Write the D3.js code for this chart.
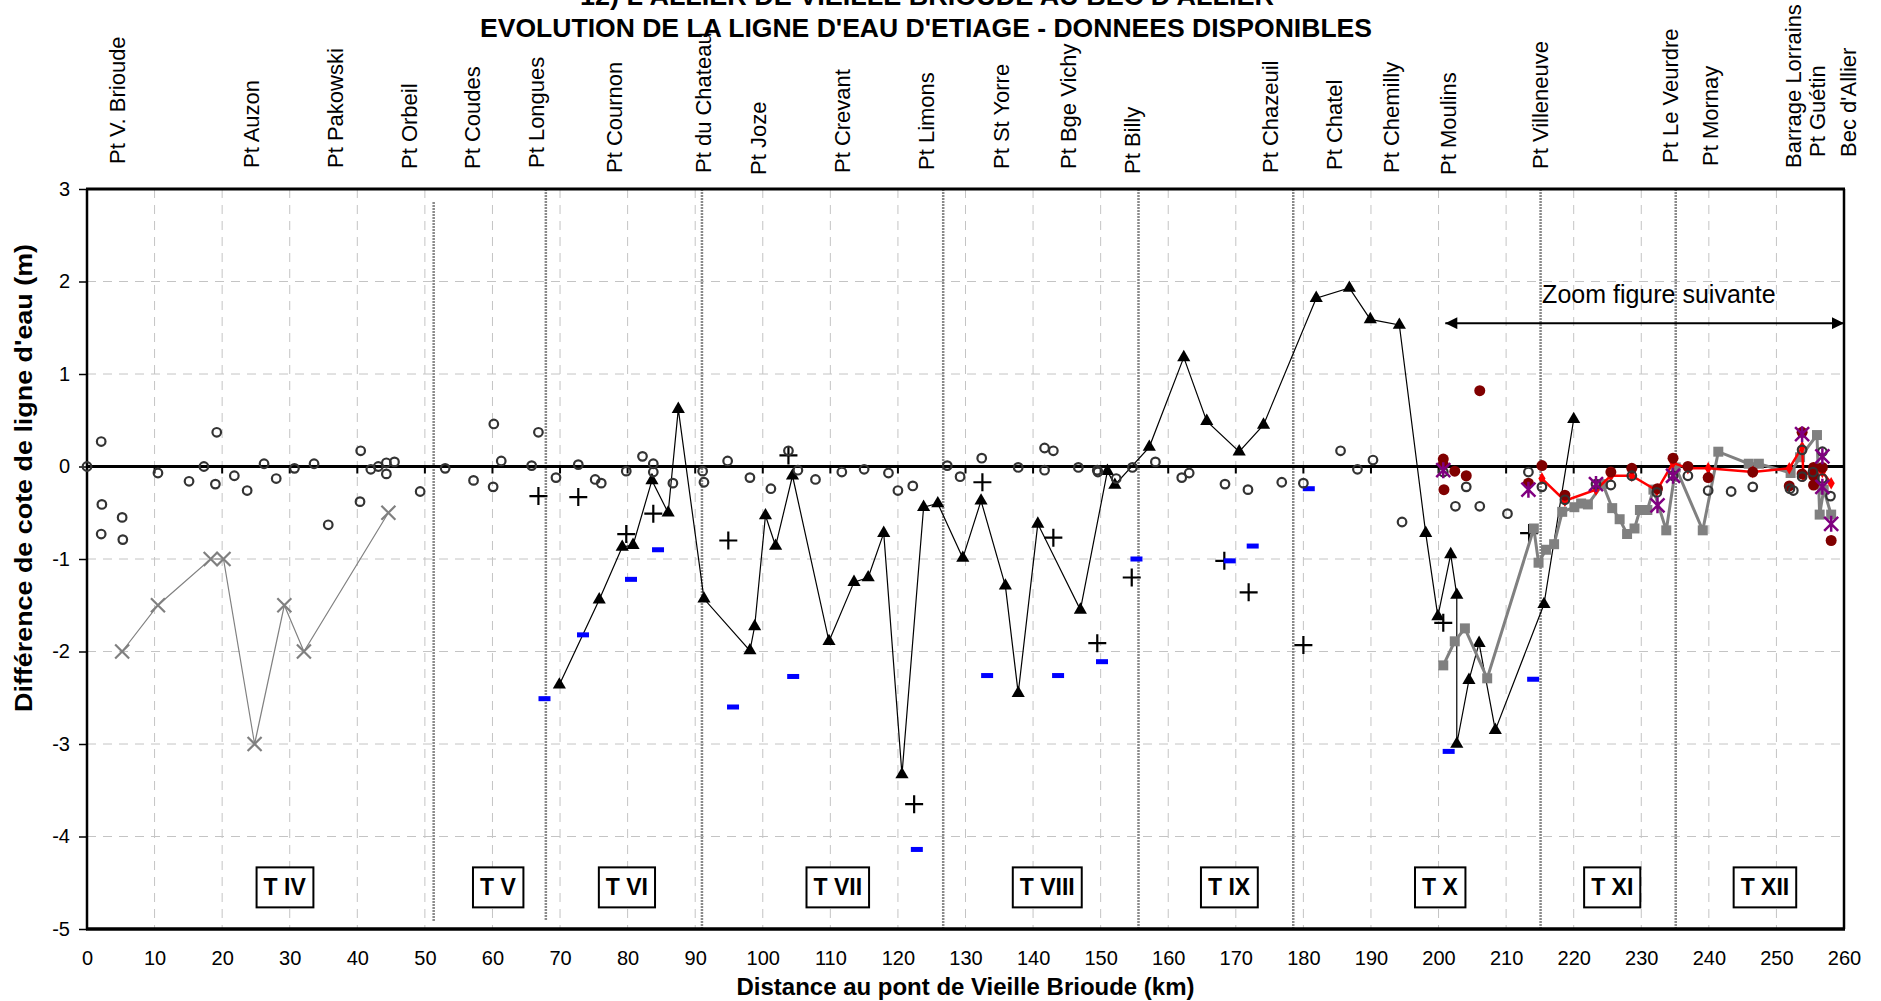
<!DOCTYPE html>
<html><head><meta charset="utf-8">
<script src="https://cdn.jsdelivr.net/npm/d3@7"></script>
<style>
body{margin:0;background:#fff;}
svg{display:block;font-family:"Liberation Sans",Arial,sans-serif;}
</style>
</head><body>
<svg id="chart" width="1881" height="1001"></svg>
<script>
// ---------------- DATA ----------------
const titleLines = ["12) L'ALLIER DE VIEILLE BRIOUDE AU BEC D'ALLIER", "EVOLUTION DE LA LIGNE D'EAU D'ETIAGE - DONNEES DISPONIBLES"];
const xTitle = "Distance au pont de Vieille Brioude (km)";
const yTitle = "Différence de cote de ligne d'eau (m)";
const xTicks = d3.range(0, 261, 10);
const yTicks = [3, 2, 1, 0, -1, -2, -3, -4, -5];

const bridgeNames = ["Pt V. Brioude","Pt Auzon","Pt Pakowski","Pt Orbeil","Pt Coudes","Pt Longues","Pt Cournon","Pt du Chateau","Pt Joze","Pt Crevant","Pt Limons","Pt St Yorre","Pt Bge Vichy","Pt Billy","Pt Chazeuil","Pt Chatel","Pt Chemilly","Pt Moulins","Pt Villeneuve","Pt Le Veurdre","Pt Mornay","Barrage Lorrains","Pt Guétin","Bec d'Allier"];
const bridgeKm = [4.5,24.4,36.7,47.7,57.1,66.5,78.0,91.2,99.3,111.8,124.2,135.4,145.3,154.7,175.2,184.6,193.1,201.5,215.1,234.3,240.2,252.6,256.1,260.6];

const sectionNames = ["T IV","T V","T VI","T VII","T VIII","T IX","T X","T XI","T XII"];
const sectionKm = [29.25,60.8,79.9,111.1,142.1,169.0,200.2,225.7,248.3];
const sectionLabelValue = -4.55;
const sectionLimitsKm = [51.3,67.9,91.0,126.7,155.6,178.5,215.1,235.1];

const zoomArrowKm = [201.0, 260.0];
const zoomArrowValue = 1.55;
const zoomText = "Zoom figure suivante";

// open circles
const seriesCircles = [[0,0],[2.1,0.27],[2.2,-0.41],[2.1,-0.73],[5.2,-0.55],[5.3,-0.79],[10.5,-0.07],[15.1,-0.16],[17.3,0],[19.2,0.37],[19.0,-0.19],[21.8,-0.10],[23.7,-0.26],[26.2,0.03],[28.0,-0.13],[30.7,-0.02],[33.6,0.03],[35.7,-0.63],[40.5,0.17],[40.4,-0.38],[42.0,-0.03],[43.1,0],[44.3,0.04],[45.5,0.05],[44.3,-0.08],[49.3,-0.27],[53.0,-0.02],[57.2,-0.15],[60.2,0.46],[60.1,-0.22],[61.3,0.06],[65.8,0.01],[66.8,0.37],[69.4,-0.12],
[72.7,0.02],[75.2,-0.14],[76.1,-0.18],[79.8,-0.05],[82.2,0.11],[83.8,0.03],[83.8,-0.06],[86.7,-0.18],[91.1,-0.05],[91.3,-0.17],[94.8,0.06],[98.1,-0.12],[101.2,-0.24],[103.8,0.17],[105.2,-0.04],[107.8,-0.14],[111.7,-0.06],[115.0,-0.03],[118.6,-0.07],[120.0,-0.26],[122.2,-0.21],[127.3,0.01],[129.2,-0.11],[132.4,0.09],[137.8,-0.01],
[141.7,0.20],[141.7,-0.04],[143.0,0.17],[146.7,-0.01],[149.5,-0.04],[149.6,-0.06],[152.3,-0.13],[154.7,-0.01],[158.1,0.05],[162.0,-0.12],[163.1,-0.07],[168.4,-0.19],[171.8,-0.25],[176.8,-0.17],[180.0,-0.18],[185.5,0.17],[188.0,-0.03],[190.3,0.07],[194.6,-0.60],
[200.7,-0.06],[202.5,-0.43],[204.1,-0.22],[206.1,-0.43],[210.2,-0.51],[213.3,-0.06],[215.3,-0.22],[218.7,-0.36],[223.3,-0.19],[225.5,-0.20],[228.6,-0.10],[232.3,-0.28],[234.7,-0.10],[236.9,-0.10],[239.9,-0.26],[243.3,-0.27],[246.5,-0.22],[252.0,-0.24],[252.5,-0.26],[253.8,0.18],[253.8,-0.11],[255.4,-0.06],[256.8,0.16],[256.8,-0.13],[258.0,-0.32]];

// grey crosses with thin line
const seriesGreyX = [[5.2,-2.0],[10.5,-1.5],[18.3,-1.0],[20.2,-1.0],[24.8,-3.0],[29.2,-1.5],[32.1,-2.0],[44.6,-0.5]];

// black triangles with line
const seriesTriangles = [[69.9,-2.36],[75.8,-1.44],[79.2,-0.87],[80.8,-0.85],[83.6,-0.15],[86.0,-0.50],[87.5,0.62],[91.3,-1.43],[98.1,-1.99],[98.8,-1.73],[100.4,-0.53],[101.9,-0.86],[104.4,-0.10],[109.8,-1.89],[113.5,-1.25],[115.6,-1.20],[117.9,-0.72],[120.6,-3.33],[123.8,-0.44],[125.9,-0.40],[129.6,-0.99],[132.3,-0.37],[135.9,-1.29],[137.8,-2.45],[140.7,-0.62],[147.0,-1.55],[151.0,-0.05],[152.1,-0.20],[157.2,0.21],[162.3,1.18],[165.7,0.49],[170.5,0.16],[174.1,0.45],[181.9,1.82],[186.8,1.93],[189.9,1.59],[194.2,1.53],[198.1,-0.72],[199.9,-1.62],[201.8,-0.95],[202.7,-1.39],[202.7,-3.00],[204.5,-2.31],[206.0,-1.91],[208.4,-2.85],[215.6,-1.49],[220.0,0.51]];

// black plus signs
const seriesPlus = [[66.8,-0.32],[72.7,-0.33],[79.8,-0.73],[83.8,-0.51],[94.9,-0.80],[103.8,0.12],[122.4,-3.65],[132.5,-0.17],[143.0,-0.77],[149.5,-1.91],[154.6,-1.20],[168.3,-1.02],[171.9,-1.36],[180.0,-1.93],[200.7,-1.69],[213.4,-0.72]];

// blue dashes
const seriesBlue = [[67.7,-2.51],[73.4,-1.82],[80.5,-1.22],[84.5,-0.90],[95.6,-2.60],[104.5,-2.27],[122.8,-4.14],[133.2,-2.26],[143.7,-2.26],[150.2,-2.11],[155.3,-1.00],[169.1,-1.02],[172.5,-0.86],[180.8,-0.24],[201.5,-3.08],[214.0,-2.30]];

// grey squares with thick line
const seriesSquares = [[200.7,-2.15],[202.4,-1.89],[203.9,-1.75],[207.2,-2.29],[214.1,-0.67],[214.8,-1.04],[215.9,-0.90],[217.1,-0.84],[218.3,-0.49],[220.1,-0.44],[221.1,-0.40],[222.1,-0.41],[224.3,-0.19],[225.7,-0.45],[226.8,-0.57],[227.9,-0.73],[229.0,-0.67],[229.8,-0.47],[230.9,-0.47],[231.8,-0.25],[233.7,-0.69],[235.1,-0.01],[239.1,-0.69],[241.4,0.16],[245.9,0.03],[247.4,0.03],[252.1,-0.07],[253.5,0.10],[256.0,0.34],[256.4,-0.52],[257.0,-0.25],[258.1,-0.52]];

// red line with small diamonds
const seriesRed = [[215.3,-0.13],[218.7,-0.37],[223.3,-0.25],[225.5,-0.10],[228.6,-0.10],[232.3,-0.26],[234.7,0.04],[236.9,-0.02],[239.9,-0.02],[246.5,-0.06],[251.9,-0.02],[253.8,0.21],[254.0,-0.10],[255.5,-0.04],[256.8,-0.06],[258.1,-0.18]];

// dark red filled circles
const seriesMaroon = [[200.7,0.08],[200.7,0.02],[200.8,-0.25],[202.4,-0.05],[204.1,-0.10],[206.1,0.82],[213.3,-0.18],[215.3,0.01],[218.7,-0.31],[225.5,-0.06],[228.6,-0.02],[232.4,-0.24],[234.7,0.09],[236.9,0.00],[239.9,-0.12],[246.5,-0.06],[251.9,-0.21],[253.8,0.37],[253.8,-0.08],[255.5,-0.01],[255.5,-0.10],[255.5,-0.20],[256.8,-0.01],[258.1,-0.80]];

// purple asterisks
const seriesPurple = [[200.7,-0.04],[213.3,-0.25],[223.3,-0.19],[232.4,-0.42],[234.7,-0.10],[253.8,0.35],[256.8,0.11],[256.8,-0.22],[258.1,-0.62]];

// ---------------- LAYOUT ----------------
const pL = 87, pR = 1844, pT = 189, pB = 929;
const bridgeLabelBottom = [164,168,168,169,169,168,173,173,175,173,170,169,169,174,173,170,173,175,169,163,166,168,157,157];

const svg = d3.select("#chart");
const x = d3.scaleLinear().domain([0, 260]).range([pL, pR]);
const y = d3.scaleLinear().domain([-5, 3]).range([pB, pT]);

// titles
svg.append("text").attr("x", 927).attr("y", 5).attr("text-anchor", "middle")
  .attr("font-weight", "bold").attr("font-size", 25)
  .attr("textLength", 694).attr("lengthAdjust", "spacingAndGlyphs").text(titleLines[0]);
svg.append("text").attr("x", 926).attr("y", 37).attr("text-anchor", "middle")
  .attr("font-weight", "bold").attr("font-size", 25)
  .attr("textLength", 892).attr("lengthAdjust", "spacingAndGlyphs").text(titleLines[1]);

// grid
const grid = svg.append("g");
grid.selectAll("line.v").data(xTicks.filter(d => d > 0 && d < 260)).join("line")
  .attr("x1", d => x(d)).attr("x2", d => x(d)).attr("y1", pT).attr("y2", pB)
  .attr("stroke", "#c4c4c4").attr("stroke-width", 1).attr("stroke-dasharray", "9,7");
grid.selectAll("line.h").data(yTicks.filter(d => d !== 0 && d !== 3 && d !== -5)).join("line")
  .attr("x1", pL).attr("x2", pR).attr("y1", d => y(d)).attr("y2", d => y(d))
  .attr("stroke", "#c4c4c4").attr("stroke-width", 1).attr("stroke-dasharray", "9,7");

// section limits
svg.append("g").selectAll("line").data(sectionLimitsKm).join("line")
  .attr("x1", d => x(d)).attr("x2", d => x(d))
  .attr("y1", (d, i) => i === 0 ? 202 : pT)
  .attr("y2", (d, i) => i < 2 ? 921 : pB)
  .attr("stroke", "#8a8a8a").attr("stroke-width", 2.5).attr("stroke-dasharray", "2,1");

// zero line + ticks
svg.append("line").attr("x1", pL).attr("x2", pR).attr("y1", y(0)).attr("y2", y(0))
  .attr("stroke", "#000").attr("stroke-width", 3);
svg.append("g").selectAll("line").data(xTicks.filter(d => d > 0 && d < 260)).join("line")
  .attr("x1", d => x(d)).attr("x2", d => x(d)).attr("y1", y(0)).attr("y2", y(0) + 7)
  .attr("stroke", "#000").attr("stroke-width", 2);

// y axis
const yAxis = svg.append("g").attr("transform", `translate(${pL},0)`)
  .call(d3.axisLeft(y).tickValues(yTicks).tickSize(8).tickSizeOuter(0).tickPadding(9).tickFormat(d => String(d)));
yAxis.select(".domain").remove();
yAxis.selectAll("line").attr("stroke", "#000").attr("stroke-width", 1.5);
yAxis.selectAll("text").attr("font-size", 20).attr("font-family", "Liberation Sans, Arial, sans-serif").attr("fill", "#000");

// x axis labels at bottom
const xAxis = svg.append("g").attr("transform", `translate(0,${pB})`)
  .call(d3.axisBottom(x).tickValues(xTicks).tickSize(0).tickPadding(22).tickFormat(d => String(d)));
xAxis.select(".domain").remove();
xAxis.selectAll("text").attr("font-size", 20).attr("font-family", "Liberation Sans, Arial, sans-serif").attr("fill", "#000");

// frame
svg.append("line").attr("x1", pL - 1).attr("x2", pR + 1).attr("y1", pT).attr("y2", pT).attr("stroke", "#000").attr("stroke-width", 3);
svg.append("line").attr("x1", pL - 1).attr("x2", pR + 1).attr("y1", pB).attr("y2", pB).attr("stroke", "#000").attr("stroke-width", 3.5);
svg.append("line").attr("x1", pL).attr("x2", pL).attr("y1", pT).attr("y2", pB).attr("stroke", "#000").attr("stroke-width", 2.5);
svg.append("line").attr("x1", pR).attr("x2", pR).attr("y1", pT).attr("y2", pB).attr("stroke", "#000").attr("stroke-width", 2.5);

// axis titles
svg.append("text").attr("x", (pL + pR) / 2).attr("y", 995).attr("text-anchor", "middle")
  .attr("font-weight", "bold").attr("font-size", 23)
  .attr("textLength", 458).attr("lengthAdjust", "spacingAndGlyphs").text(xTitle);
svg.append("text").attr("transform", "translate(32,478) rotate(-90)").attr("text-anchor", "middle")
  .attr("font-weight", "bold").attr("font-size", 23)
  .attr("textLength", 468).attr("lengthAdjust", "spacingAndGlyphs").text(yTitle);

// bridge labels
svg.append("g").selectAll("text").data(bridgeNames).join("text")
  .attr("transform", (d, i) => `translate(${x(bridgeKm[i]) + 7.5},${bridgeLabelBottom[i]}) rotate(-90)`)
  .attr("text-anchor", "start").attr("font-size", 22).text(d => d);

// section boxes
const secG = svg.append("g");
sectionNames.forEach((name, i) => {
  const g = secG.append("g");
  const t = g.append("text").attr("x", x(sectionKm[i])).attr("y", y(sectionLabelValue) + 8)
    .attr("text-anchor", "middle").attr("font-weight", "bold").attr("font-size", 23).text(name);
  const bb = t.node().getBBox();
  g.insert("rect", "text").attr("x", bb.x - 7).attr("y", y(sectionLabelValue) - 20)
    .attr("width", bb.width + 14).attr("height", 40)
    .attr("fill", "#fff").attr("stroke", "#000").attr("stroke-width", 2);
});

// zoom arrow
const defs = svg.append("defs");
defs.append("marker").attr("id", "ah").attr("viewBox", "0 0 10 10").attr("refX", 10).attr("refY", 5)
  .attr("markerWidth", 15).attr("markerHeight", 12).attr("markerUnits", "userSpaceOnUse").attr("orient", "auto-start-reverse")
  .append("path").attr("d", "M0,0 L10,5 L0,10 Z").attr("fill", "#000");
svg.append("line").attr("x1", x(zoomArrowKm[0])).attr("x2", x(zoomArrowKm[1]))
  .attr("y1", y(zoomArrowValue)).attr("y2", y(zoomArrowValue))
  .attr("stroke", "#000").attr("stroke-width", 2)
  .attr("marker-start", "url(#ah)").attr("marker-end", "url(#ah)");
svg.append("text").attr("x", x(232.6)).attr("y", y(zoomArrowValue) - 20).attr("text-anchor", "middle")
  .attr("font-size", 25).text(zoomText);

// ---------------- SERIES ----------------
const line = d3.line().x(d => x(d[0])).y(d => y(d[1]));
const plot = svg.append("g");

// grey X series
plot.append("path").datum(seriesGreyX).attr("d", line).attr("fill", "none").attr("stroke", "#808080").attr("stroke-width", 1.2);
plot.append("g").selectAll("path").data(seriesGreyX).join("path")
  .attr("transform", d => `translate(${x(d[0])},${y(d[1])})`)
  .attr("d", "M-7,-7L7,7M-7,7L7,-7").attr("stroke", "#808080").attr("stroke-width", 2.2).attr("fill", "none");

// triangles
plot.append("path").datum(seriesTriangles).attr("d", line).attr("fill", "none").attr("stroke", "#000").attr("stroke-width", 1.2);
plot.append("g").selectAll("path").data(seriesTriangles).join("path")
  .attr("transform", d => `translate(${x(d[0])},${y(d[1])})`)
  .attr("d", d3.symbol(d3.symbolTriangle, 75)).attr("fill", "#000");

// plus
plot.append("g").selectAll("path").data(seriesPlus).join("path")
  .attr("transform", d => `translate(${x(d[0])},${y(d[1])})`)
  .attr("d", "M-9,0L9,0M0,-9L0,9").attr("stroke", "#000").attr("stroke-width", 2.2);

// blue dashes
plot.append("g").selectAll("rect").data(seriesBlue).join("rect")
  .attr("x", d => x(d[0]) - 6).attr("y", d => y(d[1]) - 2.5).attr("width", 12).attr("height", 5)
  .attr("fill", "#0000ff");

// grey squares
plot.append("path").datum(seriesSquares).attr("d", line).attr("fill", "none").attr("stroke", "#808080").attr("stroke-width", 3);
plot.append("g").selectAll("path").data(seriesSquares).join("path")
  .attr("transform", d => `translate(${x(d[0])},${y(d[1])})`)
  .attr("d", d3.symbol(d3.symbolSquare, 100)).attr("fill", "#808080");

// red line
plot.append("path").datum(seriesRed).attr("d", line).attr("fill", "none").attr("stroke", "#ff0000").attr("stroke-width", 2.5);
plot.append("g").selectAll("path").data(seriesRed).join("path")
  .attr("transform", d => `translate(${x(d[0])},${y(d[1])})`)
  .attr("d", d3.symbol(d3.symbolDiamond, 45)).attr("fill", "#ff0000");

// maroon dots
plot.append("g").selectAll("circle").data(seriesMaroon).join("circle")
  .attr("cx", d => x(d[0])).attr("cy", d => y(d[1])).attr("r", 5.5).attr("fill", "#800000");

// open circles
plot.append("g").selectAll("circle").data(seriesCircles).join("circle")
  .attr("cx", d => x(d[0])).attr("cy", d => y(d[1])).attr("r", 4.3)
  .attr("fill", "none").attr("stroke", "#333").attr("stroke-width", 2.2);

// purple asterisks
plot.append("g").selectAll("path").data(seriesPurple).join("path")
  .attr("transform", d => `translate(${x(d[0])},${y(d[1])})`)
  .attr("d", "M-7,-7L7,7M-7,7L7,-7M0,-8L0,8").attr("stroke", "#800080").attr("stroke-width", 2.5).attr("fill", "none");
</script>
</body></html>
